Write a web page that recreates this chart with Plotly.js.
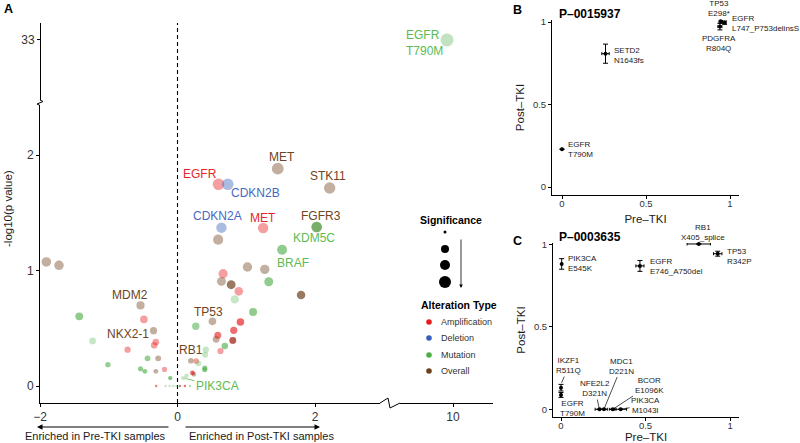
<!DOCTYPE html>
<html><head><meta charset="utf-8">
<script src="https://cdn.plot.ly/plotly-3.0.1.min.js"></script>
<style>html,body{margin:0;padding:0;background:#fff}#chart{width:800px;height:443px}</style>
</head><body><div id="chart"></div>
<script>
// ---------------- Panel A data (log2 fold change vs -log10 p) ----------------
const ampX = [0.596, 1.245, 0.663, 0.891, -0.489, 0.915, 0.818, 0.586, -0.315, -0.339, -0.726, 0.625, 0.271, -0.189, 0.218, 0.107, -0.31, 0.804];
const ampY = [1.746, 1.368, 0.973, 0.820, 0.577, 0.554, 0.482, 0.439, 0.381, 0.352, 0.315, 0.303, 0.216, 0.144, 0.113, 0.0, 0.0, 0.395];
const ampAlpha = [0.6, 0.6, 0.6, 0.6, 0.6, 0.95, 0.9, 0.85, 0.6, 0.6, 0.6, 0.6, 0.6, 0.6, 0.95, 0.9, 0.8, 0.55];

const delX = [0.731, 0.639];
const delY = [1.746, 1.371];
const delAlpha = [0.6, 0.6];

const mutX = [2.024, 1.521, 1.327, 0.833, -1.429, 1.099, 0.266, -1.235, 0.688, 0.412, 0.402, -0.436, 0.305, -1.012, -0.538, -0.475, 0.397, 0.397, -0.106, 0.082, 0.131, -0.175, -0.116, -0.063, -0.015, 0.179];
const mutY = [1.377, 1.180, 0.903, 0.750, 0.603, 0.641, 0.517, 0.390, 0.346, 0.315, 0.271, 0.240, 0.196, 0.185, 0.150, 0.127, 0.156, 0.141, 0.069, 0.069, 0.089, 0.0, 0.0, 0.0, 0.0, 0.0];
const mutAlpha = [0.9, 0.9, 0.9, 0.45, 0.9, 0.9, 0.8, 0.45, 0.9, 0.45, 0.45, 0.85, 0.45, 0.85, 0.9, 0.9, 0.9, 0.9, 1.0, 0.45, 0.45, 0.45, 0.45, 0.45, 0.45, 0.6];

const ovrX = [1.458, 2.213, 2.024, 0.591, -1.908, -1.724, 1.017, 1.269, 0.639, 0.780, 1.797, -0.538, 0.508, -0.349, 0.562, 0.804, -0.281, 0.194, -0.315, 0.237, 0.034];
const ovrY = [1.882, 1.714, 1.377, 1.267, 1.074, 1.045, 1.030, 1.010, 0.906, 0.877, 0.788, 0.698, 0.560, 0.479, 0.404, 0.395, 0.240, 0.219, 0.127, 0.101, 0.0];
const ovrAlpha = [0.6, 0.6, 0.6, 0.6, 0.6, 0.6, 0.6, 0.6, 0.6, 1.0, 1.0, 0.6, 0.6, 0.6, 0.6, 0.9, 0.6, 0.6, 0.6, 0.6, 0.8];

// outlier on the broken axes
const topX = [9.913];
const topY = [33];
const topAlpha = [0.5];

// ---------------- Panel B data (P-0015937) ----------------
const bLabels = ["EGFR<br>T790M", "SETD2<br>N1643fs", "TP53<br>E298*", "EGFR<br>L747_P753delinsS", "PDGFRA<br>R804Q"];
const bPre  = [0.0, 0.259, 0.945, 0.968, 0.940];
const bPost = [0.229, 0.808, 1.004, 0.996, 0.972];
const bPreErr  = [0, 0.022, 0.010, 0.008, 0.012];
const bPostErr = [0, 0.058, 0.012, 0.010, 0.020];

// ---------------- Panel C data (P-0003635) ----------------
const cLabels = ["RB1<br>X405_splice", "TP53<br>R342P", "PIK3CA<br>E545K", "EGFR<br>E746_A750del", "IKZF1<br>R511Q", "EGFR<br>T790M", "NFE2L2<br>D321N", "MDC1<br>D221N", "BCOR<br>E1096K", "PIK3CA<br>M1043I"];
const cPre  = [0.815, 0.927, 0.004, 0.467, 0.0, 0.0, 0.227, 0.254, 0.306, 0.353];
const cPost = [1.002, 0.943, 0.881, 0.869, 0.131, 0.087, 0.0, 0.0, 0.0, 0.0];
const cPreErr  = [0.069, 0.025, 0, 0.024, 0, 0, 0.025, 0.02, 0.02, 0.035];
const cPostErr = [0, 0.015, 0.032, 0.033, 0.02, 0.015, 0, 0, 0, 0];

// ---------------- styling ----------------
const FONT = '"Liberation Sans", Arial, Helvetica, sans-serif';
const base = {amp:[228,26,28], del:[55,95,185], mut:[77,175,74], ovr:[110,64,28]};
const txtCol = {amp:'#e4262b', del:'#4768bf', mut:'#5dbb52', ovr:'#6e4421'};
const rgba = (k,a)=>`rgba(${base[k][0]},${base[k][1]},${base[k][2]},${a})`;
const sz = y => Math.min(13, 2.5 + 6.8*Math.sqrt(Math.max(0,y)));
const PX = x => x/800, PY = y => 1 - y/443;

function volcano(k, xs, ys, al, xa, ya){
  return {type:'scatter', mode:'markers', x:xs, y:ys, xaxis:xa, yaxis:ya, showlegend:false,
    hoverinfo:'skip', cliponaxis:false,
    marker:{color:al.map(a=>rgba(k,a)), size:ys.map(sz), line:{width:0}}};
}

const traces = [
  volcano('ovr', ovrX, ovrY, ovrAlpha, 'x', 'y'),
  volcano('amp', ampX, ampY, ampAlpha, 'x', 'y'),
  volcano('del', delX, delY, delAlpha, 'x', 'y'),
  volcano('mut', mutX, mutY, mutAlpha, 'x', 'y'),
  volcano('mut', topX, topY, topAlpha, 'x2', 'y2'),
  {type:'scatter', mode:'markers', x:bPre, y:bPost, xaxis:'x3', yaxis:'y3', showlegend:false, cliponaxis:false,
   marker:{color:'#000', size:4},
   error_x:{type:'data', array:bPreErr, visible:true, color:'#000', thickness:1, width:1.5},
   error_y:{type:'data', array:bPostErr, visible:true, color:'#000', thickness:1, width:2.5}},
  {type:'scatter', mode:'markers', x:cPre, y:cPost, xaxis:'x4', yaxis:'y4', showlegend:false, cliponaxis:false,
   marker:{color:'#000', size:4},
   error_x:{type:'data', array:cPreErr, visible:true, color:'#000', thickness:1, width:1.5},
   error_y:{type:'data', array:cPostErr, visible:true, color:'#000', thickness:1, width:2.5}}
];

const tickF = s => ({family:FONT, size:s, color:'#333'});
function ax(o){
  return Object.assign({showline:true, linecolor:'#000', linewidth:1, ticks:'outside', ticklen:3,
    tickcolor:'#000', tickwidth:1, showgrid:false, zeroline:false, automargin:false, fixedrange:true}, o);
}
const ttl = t => ({text:t, font:{family:FONT, size:11.5, color:'#1a1a1a'}});

const layout = {
  width:800, height:443, margin:{l:0,r:0,t:0,b:0}, showlegend:false,
  paper_bgcolor:'#fff', plot_bgcolor:'rgba(0,0,0,0)', font:{family:FONT, color:'#000'},
  xaxis: ax({domain:[PX(40),PX(380)], range:[-2, 2.945], tickvals:[-2,0,2], tickfont:tickF(12), anchor:'y'}),
  yaxis: ax({domain:[PY(403),PY(105)], range:[-0.147, 2.433], tickvals:[0,1,2], tickfont:tickF(12), anchor:'x'}),
  xaxis2: ax({domain:[PX(400),PX(493)], range:[9.229, 10.582], tickvals:[10], tickfont:tickF(12), anchor:'free', position:PY(403)}),
  yaxis2: ax({domain:[PY(100),PY(23)], range:[32.48, 33.147], tickvals:[33], tickfont:tickF(12), anchor:'free', position:PX(40)}),
  xaxis3: ax({domain:[PX(552),PX(739)], range:[-0.0595, 1.0536], tickvals:[0,0.5,1], ticktext:['0','0.5','1'], tickfont:tickF(9.5), anchor:'y3',
    ticklabelstandoff:-3, title:Object.assign(ttl('Pre–TKI'), {standoff:6})}),
  yaxis3: ax({domain:[PY(195),PY(20)], range:[-0.0485, 1.0121], tickvals:[0,0.5,1], ticktext:['0','0.5','1'], tickfont:tickF(9.5), anchor:'x3',
    title:Object.assign(ttl('Post–TKI'), {standoff:5})}),
  xaxis4: ax({domain:[PX(553),PX(739)], range:[-0.0473, 1.053], tickvals:[0,0.5,1], ticktext:['0','0.5','1'], tickfont:tickF(9.5), anchor:'y4',
    ticklabelstandoff:-3, title:Object.assign(ttl('Pre–TKI'), {standoff:6})}),
  yaxis4: ax({domain:[PY(417),PY(243)], range:[-0.0467, 1.0079], tickvals:[0,0.5,1], ticktext:['0','0.5','1'], tickfont:tickF(9.5), anchor:'x4',
    title:Object.assign(ttl('Post–TKI'), {standoff:5})}),
  shapes:[], annotations:[]
};

// dashed zero line across both broken panels
layout.shapes.push({type:'line', xref:'x', yref:'paper', x0:0, x1:0, y0:PY(403), y1:PY(23), layer:'below',
  line:{color:'#000', width:1.1, dash:'4px,3px'}});
// axis break marks
layout.shapes.push({type:'path', xref:'paper', yref:'paper', line:{color:'#000', width:1},
  path:`M${PX(40)},${PY(100)} L${PX(43)},${PY(101.5)} L${PX(37)},${PY(104)} L${PX(40)},${PY(105.5)}`});
layout.shapes.push({type:'path', xref:'paper', yref:'paper', line:{color:'#000', width:1},
  path:`M${PX(380)},${PY(403)} L${PX(388)},${PY(398)} L${PX(390)},${PY(408)} L${PX(400)},${PY(403)}`});

// significance legend (size key)
const sigY = [232, 249, 265, 282], sigD = [3, 8, 10, 12];
sigY.forEach((yy,i)=>layout.shapes.push({type:'circle', xref:'paper', yref:'paper', xsizemode:'pixel', ysizemode:'pixel',
  xanchor:PX(445), yanchor:PY(yy), x0:-sigD[i]/2, x1:sigD[i]/2, y0:-sigD[i]/2, y1:sigD[i]/2,
  fillcolor:'#000', line:{width:0}}));
// alteration type legend keys
const legNames = ['Amplification','Deletion','Mutation','Overall'], legKeys = ['amp','del','mut','ovr'], legY = [322,338,355,371];
legNames.forEach((n,i)=>{
  layout.shapes.push({type:'circle', xref:'paper', yref:'paper', xsizemode:'pixel', ysizemode:'pixel',
    xanchor:PX(429), yanchor:PY(legY[i]), x0:-2.8, x1:2.8, y0:-2.8, y1:2.8, fillcolor:rgba(legKeys[i],1), line:{width:0}});
  layout.annotations.push({xref:'paper', yref:'paper', x:PX(439), y:PY(legY[i]), xanchor:'left', yanchor:'middle',
    text:n, showarrow:false, font:{family:FONT, size:9, color:'#333'}});
});

const A = layout.annotations;
const ann = (o)=>A.push(Object.assign({showarrow:false, xanchor:'center', yanchor:'middle'}, o));

// legend titles & arrow
ann({xref:'paper', yref:'paper', x:PX(451), y:PY(220), text:'<b>Significance</b>', font:{family:FONT, size:10.5, color:'#000'}});
ann({xref:'paper', yref:'paper', x:PX(459), y:PY(305), text:'<b>Alteration Type</b>', font:{family:FONT, size:10.5, color:'#000'}});
A.push({xref:'paper', yref:'paper', x:PX(461), y:PY(288), ax:0, ay:-50, text:'', showarrow:true,
  arrowhead:2, arrowsize:0.9, arrowwidth:0.8, arrowcolor:'#000'});

// panel letters and titles
ann({xref:'paper', yref:'paper', x:PX(8), y:PY(9), text:'<b>A</b>', font:{family:FONT, size:12.5, color:'#000'}});
ann({xref:'paper', yref:'paper', x:PX(517), y:PY(10), text:'<b>B</b>', font:{family:FONT, size:12.5, color:'#000'}});
ann({xref:'paper', yref:'paper', x:PX(517), y:PY(241), text:'<b>C</b>', font:{family:FONT, size:12.5, color:'#000'}});
ann({xref:'paper', yref:'paper', x:PX(557), y:PY(14), xanchor:'left', text:'<b>P–0015937</b>', font:{family:FONT, size:12, color:'#000'}});
ann({xref:'paper', yref:'paper', x:PX(557), y:PY(237), xanchor:'left', text:'<b>P–0003635</b>', font:{family:FONT, size:12, color:'#000'}});

// panel A y title and bottom captions
ann({xref:'paper', yref:'paper', x:PX(8), y:PY(209), textangle:-90, text:'-log10(p value)', font:{family:FONT, size:11.5, color:'#1a1a1a'}});
ann({xref:'paper', yref:'paper', x:PX(95), y:PY(436), text:'Enriched in Pre-TKI samples', font:{family:FONT, size:11, color:'#1a1a1a'}});
ann({xref:'paper', yref:'paper', x:PX(261), y:PY(436), text:'Enriched in Post-TKI samples', font:{family:FONT, size:11, color:'#1a1a1a'}});
A.push({xref:'paper', yref:'paper', x:PX(37), y:PY(427), ax:133, ay:0, text:'', showarrow:true, arrowhead:2, arrowsize:1.1, arrowwidth:1, arrowcolor:'#000'});
A.push({xref:'paper', yref:'paper', x:PX(320), y:PY(427), ax:-136, ay:0, text:'', showarrow:true, arrowhead:2, arrowsize:1.1, arrowwidth:1, arrowcolor:'#000'});

// panel A gene labels
const labelsA = [
  ['EGFR','amp',0.32,1.835], ['MET','amp',1.236,1.455], ['CDKN2B','del',1.135,1.671], ['CDKN2A','del',0.582,1.472],
  ['MET','ovr',1.513,1.983], ['STK11','ovr',2.182,1.818], ['KDM5C','mut',1.978,1.281], ['BRAF','mut',1.673,1.065],
  ['MDM2','ovr',-0.684,0.788], ['TP53','ovr',0.451,0.641], ['NKX2-1','ovr',-0.713,0.450]
];
labelsA.forEach(l=>ann({xref:'x', yref:'y', x:l[2], y:l[3], text:l[0], font:{family:FONT, size:12, color:txtCol[l[1]]}}));
const leaderA = [
  ['FGFR3','ovr',2.08,1.472,2.024,1.377,5], ['RB1','ovr',0.189,0.312,0.194,0.219,3], ['PIK3CA','mut',0.582,0.0,0.082,0.069,2]
];
leaderA.forEach(l=>A.push({xref:'x', yref:'y', axref:'x', ayref:'y', x:l[4], y:l[5], ax:l[2], ay:l[3], text:l[0],
  showarrow:true, arrowhead:0, arrowwidth:0.8, arrowcolor:txtCol[l[1]], standoff:l[6], font:{family:FONT, size:12, color:txtCol[l[1]]}}));
ann({xref:'x2', yref:'y2', x:9.287, y:32.97, xanchor:'left', align:'left', text:'EGFR<br>T790M', font:{family:FONT, size:12, color:txtCol.mut}});

// panel B labels (labels above the plotting range use paper coordinates)
const lf = {family:FONT, size:8, color:'#1a1a1a'};
const bPos = [[0.024,0.227,'left'],[0.296,0.795,'left'],null,[1.0,0.991,'left'],[0.935,0.867,'center']];
bPos.forEach((p,i)=>{ if(p) ann({xref:'x3', yref:'y3', x:p[0], y:p[1], xanchor:p[2], align:p[2], text:bLabels[i], font:lf}); });
ann({xref:'paper', yref:'paper', x:PX(719), y:PY(8.7), text:bLabels[2], font:lf});

// panel C labels
const cPos = [null,[0.970,0.929,'left'],[0.028,0.881,'left'],[0.515,0.867,'left'],null,[0.069,0.006,'center']];
cPos.forEach((p,i)=>{ if(p) ann({xref:'x4', yref:'y4', x:p[0], y:p[1], xanchor:p[2], align:p[2], text:cLabels[i], font:lf}); });
ann({xref:'paper', yref:'paper', x:PX(702.7), y:PY(233), text:cLabels[0], font:lf});
const cLead = [[4,0.047,0.265,0.0,0.152],[6,0.201,0.126,0.227,0.0],[7,0.359,0.262,0.254,0.0],[8,0.521,0.144,0.306,0.0],[9,0.501,0.026,0.353,0.0]];
cLead.forEach(c=>A.push({xref:'x4', yref:'y4', axref:'x4', ayref:'y4', x:c[3], y:c[4], ax:c[1], ay:c[2], text:cLabels[c[0]],
  showarrow:true, arrowhead:0, arrowwidth:0.7, arrowcolor:'#000', standoff:1.5, font:lf}));

Plotly.newPlot('chart', traces, layout, {staticPlot:true, displayModeBar:false});
</script></body></html>
